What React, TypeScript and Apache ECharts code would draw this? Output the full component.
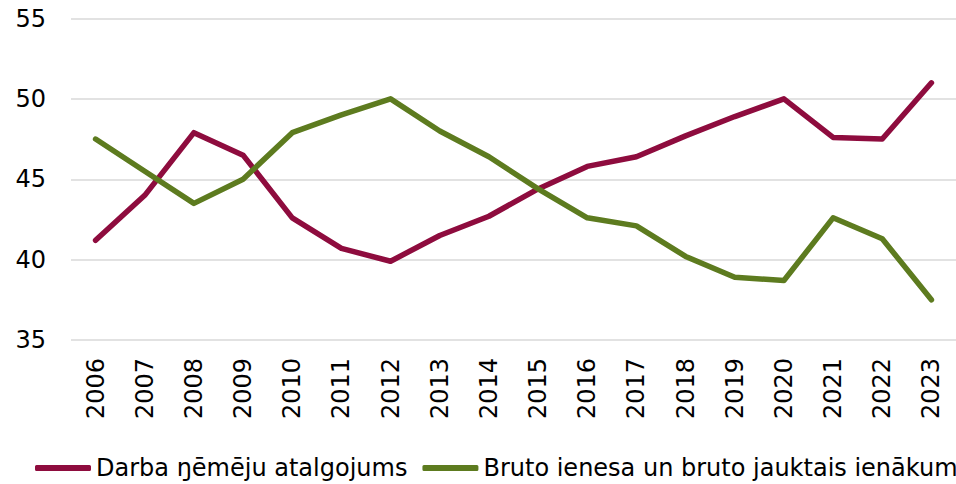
import React, { useEffect, useRef } from "react";
import * as echarts from "echarts";

const years = ["2006","2007","2008","2009","2010","2011","2012","2013","2014","2015","2016","2017","2018","2019","2020","2021","2022","2023"];
const compensation = [41.2, 44.0, 47.9, 46.5, 42.6, 40.7, 39.9, 41.5, 42.7, 44.4, 45.8, 46.4, 47.7, 48.9, 50.0, 47.6, 47.5, 51.0];
const grossSurplus = [47.5, 45.5, 43.5, 45.0, 47.9, 49.0, 50.0, 48.0, 46.4, 44.4, 42.6, 42.1, 40.2, 38.9, 38.7, 42.6, 41.3, 37.5];
const seriesNames = ["Darba ŋēmēju atalgojums", "Bruto ienesa un bruto jauktais ienākums"];

export default function App() {
  const ref = useRef<HTMLDivElement>(null);
  useEffect(() => {
    const chart = echarts.init(ref.current!, null, { renderer: "svg" });
    const font = "DejaVu Sans, Verdana, sans-serif";
    chart.setOption({
      animation: false,
      grid: { left: 71, right: -7, top: 18.5, bottom: 144, containLabel: false },
      legend: {
        left: 30,
        top: 451,
        width: 1100,
        itemWidth: 56,
        itemHeight: 6,
        itemGap: 15,
        icon: "roundRect",
        textStyle: { fontFamily: font, fontSize: 24, color: "#000" },
        data: seriesNames,
      },
      xAxis: {
        type: "category",
        data: years,
        boundaryGap: true,
        axisLine: { show: false },
        axisTick: { show: false },
        axisLabel: { rotate: 90, fontFamily: font, fontSize: 24, color: "#000", margin: 18, interval: 0 },
      },
      yAxis: {
        type: "value",
        min: 35,
        max: 55,
        interval: 5,
        axisLine: { show: false },
        axisTick: { show: false },
        axisLabel: { fontFamily: font, fontSize: 24, color: "#000", margin: 25 },
        splitLine: { lineStyle: { color: "#D9D9D9", width: 1.5 } },
      },
      series: [
        {
          name: seriesNames[0],
          type: "line",
          data: compensation,
          symbol: "none",
          lineStyle: { color: "#8E0C3E", width: 5.5, cap: "round", join: "round" },
          itemStyle: { color: "#8E0C3E" },
        },
        {
          name: seriesNames[1],
          type: "line",
          data: grossSurplus,
          symbol: "none",
          lineStyle: { color: "#5D7B1F", width: 5.5, cap: "round", join: "round" },
          itemStyle: { color: "#5D7B1F" },
        },
      ],
    });
    return () => chart.dispose();
  }, []);
  return <div ref={ref} style={{ width: 956, height: 484, position: "absolute", left: 0, top: 0 }} />;
}
